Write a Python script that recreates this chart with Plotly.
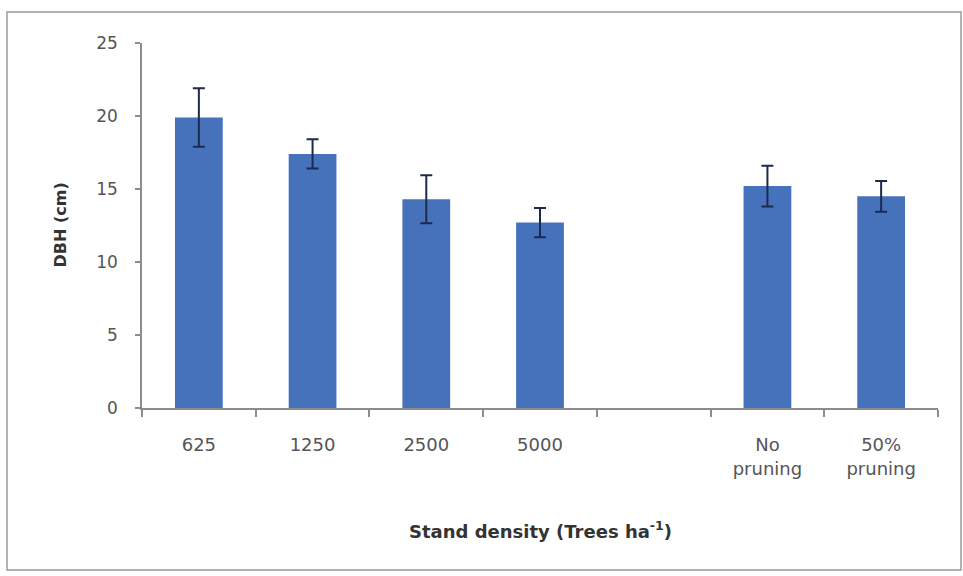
import plotly.graph_objects as go

# Mean DBH by stand density and pruning treatment
categories = ["625", "1250", "2500", "5000", "No<br>pruning", "50%<br>pruning"]
dbh_mean = [19.9, 17.4, 14.3, 12.7, 15.2, 14.5]
dbh_err = [2.0, 1.0, 1.65, 1.0, 1.4, 1.05]

# density groups occupy the first four slots, pruning groups follow after one empty slot
slots = [i if i < 4 else i + 1 for i in range(len(categories))]
n_slots = max(slots) + 1

BAR = "#4672BB"
AXIS = "#8c8c8c"
TEXT = "#555555"
FONT = "DejaVu Sans"

PLOT_W, PLOT_H = 796, 365  # plot area in pixels (for the frame around the figure)

fig = go.Figure()
fig.add_trace(go.Bar(
    x=slots,
    y=dbh_mean,
    width=0.42,
    marker=dict(color=BAR, line=dict(width=0)),
    error_y=dict(type="data", array=dbh_err, visible=True,
                 color="#1c2a4e", thickness=2, width=6),
    showlegend=False,
))

fig.update_layout(
    width=963, height=576,
    margin=dict(l=142, r=25, t=43, b=168),
    paper_bgcolor="white", plot_bgcolor="white",
    font=dict(family=FONT, color=TEXT, size=16),
    shapes=[dict(type="rect", xref="paper", yref="paper",
                 x0=-135 / PLOT_W, x1=819 / PLOT_W,
                 y0=-162 / PLOT_H, y1=396 / PLOT_H,
                 line=dict(color="#9a9a9a", width=1.5), fillcolor="rgba(0,0,0,0)",
                 layer="below")],
    annotations=[
        dict(text="<b>Stand density (Trees ha<sup>-1</sup>)</b>", xref="paper", yref="paper",
             x=0.5, y=0, yshift=-122, xanchor="center", yanchor="middle",
             showarrow=False, font=dict(family=FONT, size=18, color="#333333")),
        dict(text="<b>DBH (cm)</b>", xref="paper", yref="paper",
             x=0, xshift=-82, y=0.5, yshift=0, textangle=-90,
             xanchor="center", yanchor="middle",
             showarrow=False, font=dict(family=FONT, size=16, color="#333333")),
    ],
)

fig.update_xaxes(
    range=[-0.5, n_slots - 0.5],
    tickvals=slots, ticktext=categories,
    ticks="", showgrid=False, zeroline=False,
    showline=True, linecolor=AXIS, linewidth=1.5,
    ticklabelstandoff=20,
    tickfont=dict(family=FONT, size=18, color=TEXT),
    minor=dict(tickvals=[k - 0.5 for k in range(n_slots + 1)],
               ticks="outside", ticklen=7, tickcolor=AXIS, tickwidth=1.5,
               showgrid=False),
)

fig.update_yaxes(
    range=[0, 25], dtick=5, tick0=0,
    ticks="outside", ticklen=5, tickcolor=AXIS, tickwidth=1.5,
    showgrid=False, zeroline=False,
    showline=True, linecolor=AXIS, linewidth=1.5,
    ticklabelstandoff=14,
    tickfont=dict(family=FONT, size=17, color=TEXT),
)

fig.write_html("out.html")
